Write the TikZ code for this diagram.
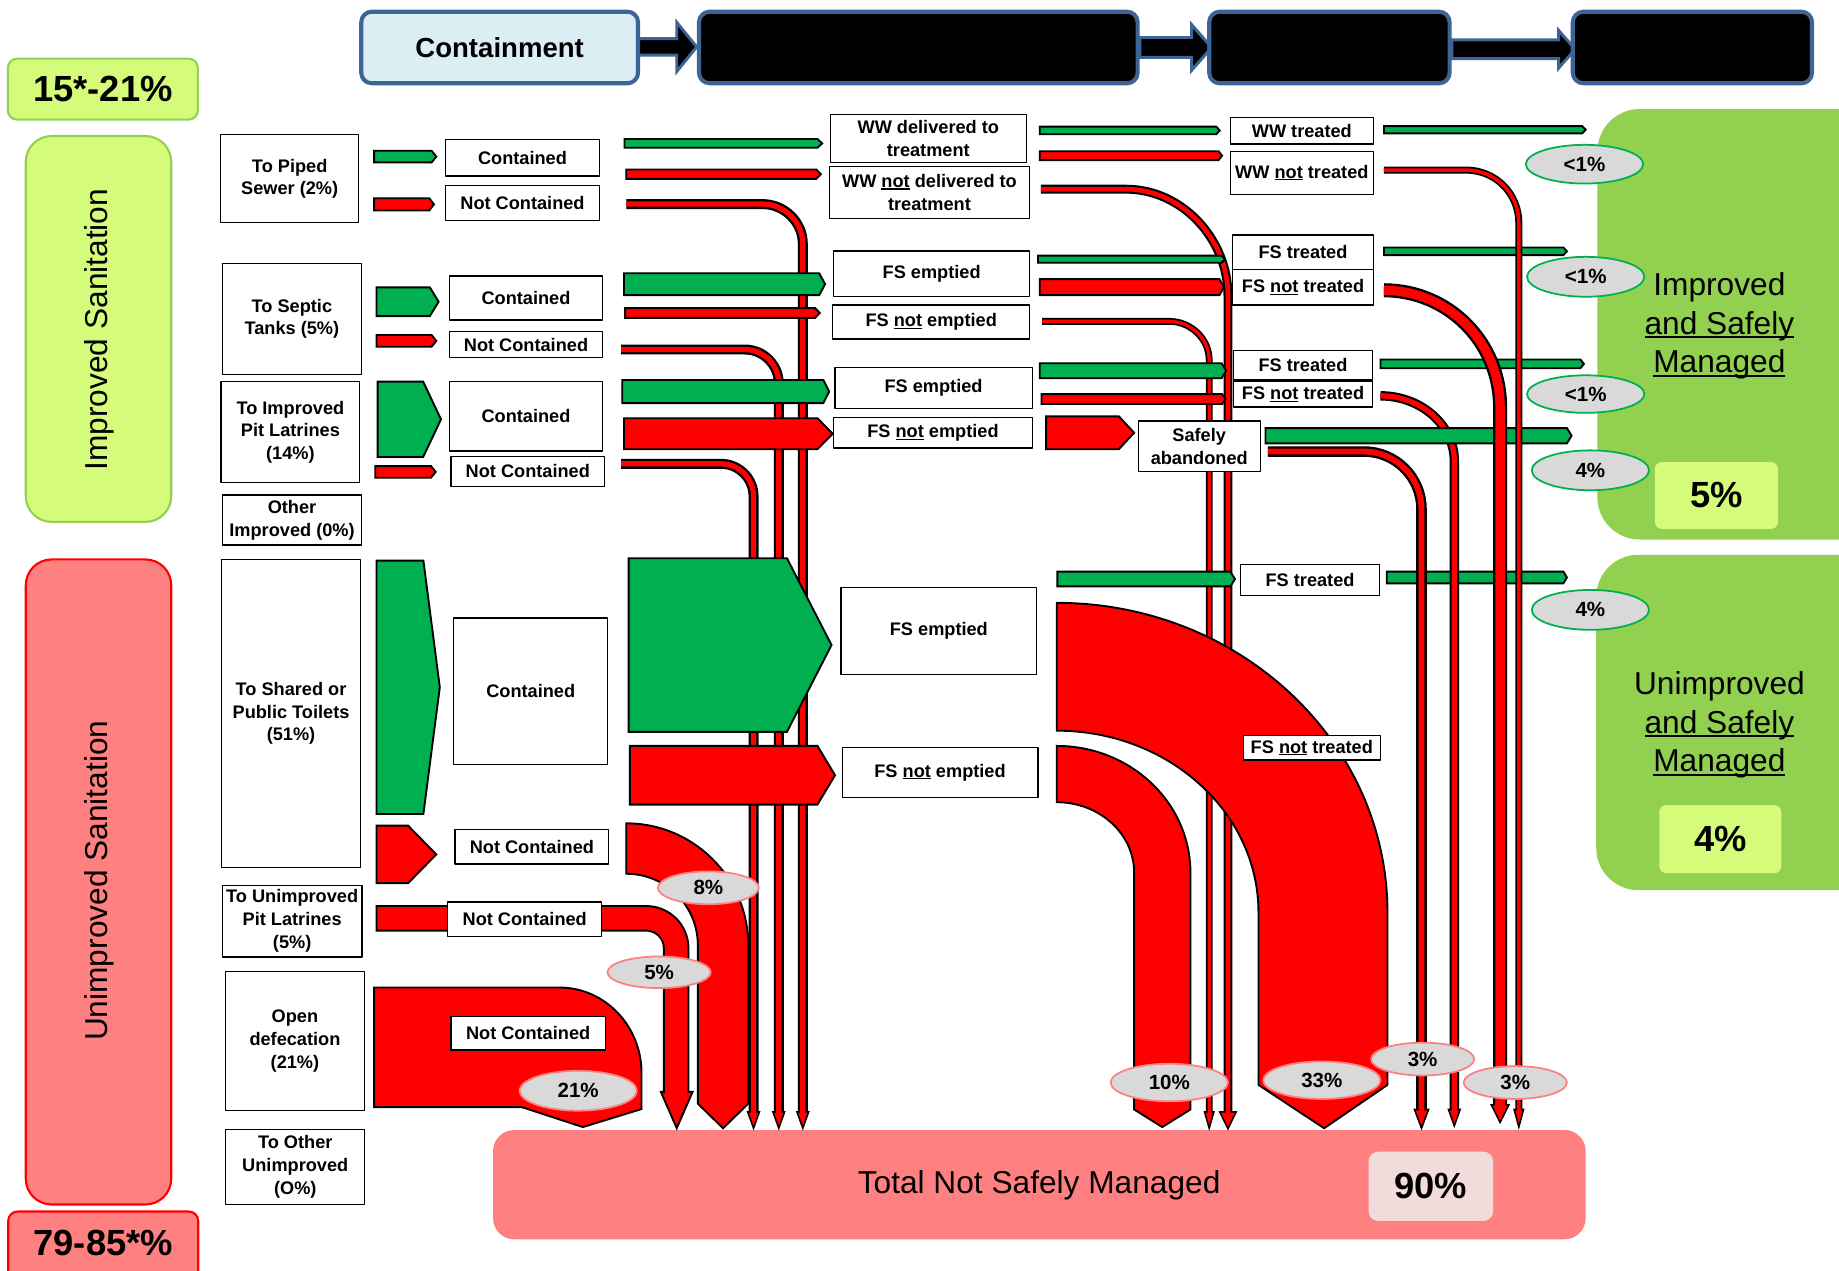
\documentclass[tikz,border=0pt]{standalone}
\usepackage{fontspec}
\setmainfont{Liberation Sans}
\usetikzlibrary{shapes.geometric}

\definecolor{flowgreen}{RGB}{0,176,80}
\definecolor{flowred}{RGB}{255,0,0}
\definecolor{salmon}{RGB}{255,128,128}
\definecolor{limefill}{RGB}{213,251,122}
\definecolor{limeedge}{RGB}{146,208,80}
\definecolor{safegreen}{RGB}{146,208,80}
\definecolor{pctgrey}{RGB}{217,217,217}
\definecolor{pctpink}{RGB}{255,128,128}
\definecolor{hdrblue}{RGB}{60,100,150}
\definecolor{hdrfill}{RGB}{219,238,244}
\definecolor{totalinner}{RGB}{242,220,219}

\newcommand\lblfont{\fontsize{15.5}{19.5}\selectfont\bfseries}
\newcommand\pctfont{\fontsize{17.5}{20}\selectfont\bfseries}
\newcommand\bigfont{\fontsize{27}{33}\selectfont}
\newcommand\numfont{\fontsize{31}{36}\selectfont\bfseries}
\newcommand\hdrfont{\fontsize{23.5}{28}\selectfont\bfseries}

% underline that sits just under the baseline
\newsavebox\ulbox
\newcommand\ul[1]{\sbox\ulbox{#1}\rlap{\rule[-0.13em]{\wd\ulbox}{0.07em}}\usebox\ulbox}

% text box given by its corners: [style]{name}{x1}{y1}{x2}{y2}{text}
\newcommand\tbox[7][]{\node[lbl,#1,minimum width={(#5-#3)*1pt},minimum height={(#6-#4)*1pt}] (#2) at ({(#3+#5)/2},{(#4+#6)/2}) {#7};}
% horizontal flow arrow with a pointed end: {style}{x1}{y1}{x2}{y2}{tip length}
\newcommand\harrow[6]{\path[#1] (#2,#3) -- ({#4-#6},#3) -- (#4,{(#3+#5)/2}) -- ({#4-#6},#5) -- (#2,#5) -- cycle;}
% outlined band along a path: {colour}{core width}{outer width}{path}
\newcommand\band[4]{\draw[black,line width=#3] #4; \draw[#1,line width=#2] #4;}
% downward head for a band: {colour}{x}{head start}{tip}{half width}{core width}
\newcommand\vend[6]{\filldraw[#1,draw=black,line width=1.3,line join=miter] ({#2-#5},#3) -- (#2,#4) -- ({#2+#5},#3) -- cycle; \draw[#1,line width=#6] (#2,{#3-1}) -- (#2,{#3+2});}

\begin{document}
\begin{tikzpicture}[x=1pt,y=-1pt,line cap=butt,line join=round,
  lbl/.style={draw=black,line width=1,fill=white,inner sep=0pt,align=center,font=\lblfont},
  gfl/.style={fill=flowgreen,draw=black,line width=1.6,line join=miter},
  rfl/.style={fill=flowred,draw=black,line width=1.6,line join=miter},
  pct/.style={ellipse,fill=pctgrey,line width=1.5,inner sep=0pt,font=\pctfont},
  pctg/.style={pct,draw=flowgreen},
  pctr/.style={pct,draw=pctpink},
  hdr/.style={draw=hdrblue,line width=3.5,rounded corners=9pt,fill=black,font=\hdrfont},
  harr/.style={fill=black,draw=hdrblue,line width=2.5,line join=miter},
  panel/.style={line width=1.8,inner sep=0pt}]

\useasboundingbox (0,0) rectangle (1568,1083);
\clip (0,0) rectangle (1568,1083);
\fill[white] (0,0) rectangle (1568,1083);

% ---- left side panels
\node[panel,draw=limeedge,fill=limefill,rounded corners=8,minimum width=162,minimum height=52,font=\numfont] (covimp) at (87.7,76) {15*-21\%};
\path[panel,draw=limeedge,fill=limefill,rounded corners=22] (22,116) rectangle (146,445);
\node[rotate=90,font=\bigfont] (impsan) at (85,281) {Improved Sanitation};
\path[panel,draw=flowred,fill=salmon,rounded corners=22] (22,477) rectangle (146,1027);
\node[rotate=90,font=\bigfont] (unimpsan) at (85,751) {Unimproved Sanitation};
\path[panel,draw=flowred,fill=salmon,rounded corners=8] (7,1033) rectangle (169,1110);
\node[font=\numfont] (covunimp) at (88,1060) {79-85*\%};

% ---- right side panels
\path[fill=safegreen,rounded corners=36] (1362,93) rectangle (1640,460);
\node[font=\bigfont,align=center] (impsafe) at (1466,278) {Improved\\\ul{and Safely}\\\ul{Managed}};
\node[fill=limefill,rounded corners=6,minimum width=105,minimum height=57,font=\numfont] (impperc) at (1463.5,422.5) {5\%};
\path[fill=safegreen,rounded corners=36] (1361,473) rectangle (1640,759);
\node[font=\bigfont,align=center] (unimpsafe) at (1466,618) {Unimproved\\\ul{and Safely}\\\ul{Managed}};
\node[fill=limefill,rounded corners=6,minimum width=104,minimum height=58,font=\numfont] (unimpperc) at (1466.8,715.5) {4\%};

% ---- total
\path[fill=salmon,rounded corners=18] (420.4,963.5) rectangle (1352,1056.7);
\node[font=\bigfont] (total) at (886,1011) {Total Not Safely Managed};
\node[fill=totalinner,rounded corners=8,minimum width=106,minimum height=59,font=\numfont] (totalperc) at (1220,1011.5) {90\%};

% ---- header chain
\path[harr] (540,33) -- (577,33) -- (577,19) -- (594,40) -- (577,61) -- (577,47) -- (540,47) -- cycle;
\path[harr] (972,32) -- (1016,32) -- (1016,21) -- (1033,40.5) -- (1016,60) -- (1016,49) -- (972,49) -- cycle;
\path[harr] (1238,34) -- (1329,34) -- (1329,26) -- (1343,42) -- (1329,58) -- (1329,50) -- (1238,50) -- cycle;
\tbox[hdr,fill=hdrfill]{stagea}{308}{10}{544}{71}{Containment}
\tbox[hdr]{stageb}{596}{10}{970}{71}{}
\tbox[hdr]{stagec}{1031}{10}{1236}{71}{}
\tbox[hdr]{staged}{1341}{10}{1545}{71}{}

% ---- not contained lines falling to the total
\band{flowred}{4.5}{8.5}{(534,174) -- (650,174) .. controls (668.8,174) and (684.5,189.2) .. (684.5,208) -- (684.5,948)}
\vend{flowred}{684.5}{948}{962}{5}{4.5}
\band{flowred}{4.5}{8.5}{(529.6,298) -- (635,298) .. controls (651,298) and (664,311) .. (664,327) -- (664,948)}
\vend{flowred}{664}{948}{962}{5}{4.5}
\band{flowred}{4.5}{8.5}{(529.6,395.5) -- (615,395.5) .. controls (630,395.5) and (642.5,408) .. (642.5,423) -- (642.5,948)}
\vend{flowred}{642.5}{948}{962}{5}{4.5}

% ---- containment arrows
\harrow{gfl}{319}{128.5}{372}{138.5}{4}
\harrow{rfl}{319}{169}{370}{179.5}{4}
\harrow{gfl}{321}{245}{374}{269.5}{7.5}
\harrow{rfl}{321}{285.6}{372}{295.6}{4}
\harrow{gfl}{322}{325.4}{376}{389.7}{15.2}
\harrow{rfl}{320}{397.4}{371.5}{407.3}{4}
\path[gfl] (321,478) -- (361,478) -- (375,586) -- (361,694) -- (321,694) -- cycle;
\path[rfl] (321,704) -- (348,704) -- (372,728.5) -- (348,753) -- (321,753) -- cycle;

% ---- emptying arrows
\harrow{gfl}{532.5}{118.5}{701}{126}{4}
\harrow{rfl}{534}{144.5}{700}{152.5}{4}
\harrow{gfl}{532}{233}{703.5}{251.6}{5}
\harrow{rfl}{533}{262.7}{699}{271}{4}
\harrow{gfl}{530.5}{324}{707}{343.7}{5}
\harrow{rfl}{532}{356.6}{710}{383}{13}
\path[gfl] (536,476) -- (671,476) -- (709,550) -- (671,624) -- (536,624) -- cycle;
\path[rfl] (537,636) -- (697,636) -- (712,661) -- (697,686) -- (537,686) -- cycle;

% ---- unsafe flows of shared toilets, unimproved pits, open defecation
\path[rfl] (534,702) .. controls (591.4,702) and (638,748.6) .. (638,806) -- (638,941) -- (616.5,962) -- (595,941) -- (595,806) .. controls (595,772.3) and (567.7,745) .. (534,745) -- cycle;
\path[rfl] (321,772.5) -- (551,772.5) .. controls (570.9,772.5) and (587,788.6) .. (587,808.5) -- (587,931) -- (590.5,931) -- (577,962) -- (563.5,931) -- (566,931) -- (566,808.5) .. controls (566,800.2) and (559.3,793.5) .. (551,793.5) -- (321,793.5) -- cycle;
\path[rfl] (319,842) -- (477,842) .. controls (515.7,842) and (547,874.7) .. (547,915) -- (547,945.6) -- (497,961) -- (445,944) -- (319,944) -- cycle;

% ---- transport stage lines
\band{flowred}{4}{7.6}{(887.5,161.3) -- (960,161.3) .. controls (1008,161.3) and (1047,204) .. (1047,252) -- (1047,948)}
\vend{flowred}{1047}{948}{962.5}{7}{4}
\band{flowred}{2.8}{5.8}{(888.5,274) -- (997,274) .. controls (1015.2,274) and (1031,288.8) .. (1031,307) -- (1031,948)}
\vend{flowred}{1031}{948}{962}{4}{2.8}

\path[rfl] (901,514) .. controls (1056.7,514) and (1183,632.2) .. (1183,778) -- (1183,925) -- (1129,962) -- (1073,925) -- (1073,778) .. controls (1073,692.4) and (996,623) .. (901,623) -- cycle;
\path[rfl] (901,636) .. controls (964,636) and (1015,684.4) .. (1015,744) -- (1015,946) -- (991,961) -- (967,946) -- (967,744) .. controls (967,711) and (937.5,684) .. (901,684) -- cycle;

\harrow{gfl}{886.5}{108}{1040}{114.5}{3}
\harrow{rfl}{886.5}{129}{1042}{136.5}{3}
\harrow{gfl}{885}{218}{1044.5}{224}{3}
\harrow{rfl}{886.5}{238}{1043.7}{251.6}{4}
\harrow{gfl}{886.5}{309.7}{1045.5}{322.5}{4}
\harrow{rfl}{888}{336}{1045}{344.5}{3}
\harrow{rfl}{892}{355}{967}{383}{13}
\harrow{gfl}{901.5}{487.4}{1053}{500}{4}

% ---- treatment stage
\harrow{gfl}{1180}{107.5}{1352}{113.7}{3}
\harrow{gfl}{1180}{211}{1336}{217.5}{3}
\harrow{gfl}{1177}{306.5}{1350.5}{314}{3}
\harrow{gfl}{1182.4}{487.4}{1336}{497.4}{3}
\band{flowred}{4.5}{8}{(1177,337.5) .. controls (1211.7,337.5) and (1240,362.5) .. (1240,393) -- (1240,946)}
\vend{flowred}{1240}{946}{960}{5}{4.5}
\harrow{gfl}{1079}{365}{1340}{378}{4}
\band{flowred}{5}{9}{(1081,385) -- (1163,385) .. controls (1190,385) and (1212,407) .. (1212,434) -- (1212,946)}
\vend{flowred}{1212}{946}{962}{6}{5}
\band{flowred}{8}{12}{(1180,247.5) .. controls (1235,247.5) and (1279,292) .. (1279,347) -- (1279,942)}
\vend{flowred}{1279}{942}{957}{7.5}{8}
\band{flowred}{3}{6}{(1180,145) -- (1250,145) .. controls (1275,145) and (1295,165) .. (1295,190) -- (1295,946)}
\vend{flowred}{1295}{946}{961}{4}{3}

% ---- labels
\tbox{srcpipe}{188}{115}{306}{190}{To Piped\\Sewer (2\%)}
\tbox{pipecont}{380}{119}{511}{150}{Contained}
\tbox{pipenc}{380}{158}{511}{188}{Not Contained}
\tbox{wwdel}{708}{97.5}{875}{138.7}{WW delivered to\\treatment}
\tbox{wwnotdel}{707}{142}{878}{186}{WW \ul{not} delivered to\\treatment}
\tbox{wwtr}{1049}{100}{1171}{122.8}{WW treated}
\tbox{wwnottr}{1049}{129}{1171}{165.5}{WW \ul{not} treated}

\tbox{srcsep}{189.5}{224.6}{308.3}{319}{To Septic\\Tanks (5\%)}
\tbox{sepcont}{383}{235.4}{514}{272.9}{Contained}
\tbox{sepnc}{383}{282.8}{514}{304.7}{Not Contained}
\tbox{sepemp}{710.7}{214}{878}{253}{FS emptied}
\tbox{sepnotemp}{710}{260}{878}{289}{FS \ul{not} emptied}
\tbox{septr}{1051}{200.4}{1171}{229.6}{FS treated}
\tbox{sepnottr}{1051}{230}{1171}{260}{FS \ul{not} treated}

\tbox{srcpit}{188.4}{325.4}{306.8}{411.6}{To Improved\\Pit Latrines\\(14\%)}
\tbox{pitcont}{383}{325.4}{514}{384.6}{Contained}
\tbox{pitnc}{384.6}{389.4}{515.5}{414.5}{Not Contained}
\tbox{pitemp}{712}{313}{880}{348}{FS emptied}
\tbox{pitnotemp}{711}{356}{880}{382}{FS \ul{not} emptied}
\tbox{pittr}{1052}{298.5}{1170}{324}{FS treated}
\tbox{pitnottr}{1052}{325.5}{1170}{347}{FS \ul{not} treated}
\tbox{pitaband}{970.5}{359}{1074.5}{402}{Safely\\abandoned}
\tbox{srcother}{190}{422}{308}{464.7}{Other\\Improved (0\%)}

\tbox{srcshared}{188.8}{476.7}{307.5}{739.8}{To Shared or\\Public Toilets\\(51\%)}
\tbox{shcont}{387}{527}{518}{652}{Contained}
\tbox{shnc}{388}{707}{519}{736.7}{Not Contained}
\tbox{shemp}{717}{501}{884}{575}{FS emptied}
\tbox{shnotemp}{718}{637}{885}{680}{FS \ul{not} emptied}
\tbox{shtr}{1058}{481}{1176}{508}{FS treated}
\tbox{shnottr}{1060}{627}{1177}{648}{FS \ul{not} treated}

\tbox{srcunpit}{189.5}{754.7}{308.7}{816}{To Unimproved\\Pit Latrines\\(5\%)}
\tbox{unpitnc}{381.8}{769}{513}{798.6}{Not Contained}
\tbox{srcod}{192}{828.5}{311}{946.5}{Open\\defecation\\(21\%)}
\tbox{odnc}{384.6}{866.5}{516}{895.3}{Not Contained}
\tbox{srcother2}{192.5}{962.7}{311}{1026.7}{To Other\\Unimproved\\(O\%)}

% ---- percentages
\node[pctr,minimum width=86,minimum height=28] (p8) at (604,757) {8\%};
\node[pctr,minimum width=88,minimum height=27] (p5) at (562,829) {5\%};
\node[pctr,minimum width=100,minimum height=34] (p21) at (493,930) {21\%};
\node[pctr,minimum width=100,minimum height=32] (p10) at (997,923) {10\%};
\node[pctr,minimum width=100,minimum height=32] (p33) at (1127,921) {33\%};
\node[pctr,minimum width=88,minimum height=28] (p3a) at (1213,903) {3\%};
\node[pctr,minimum width=88,minimum height=28] (p3b) at (1292,923) {3\%};
\node[pctg,minimum width=100,minimum height=33] (g1) at (1351,140) {<1\%};
\node[pctg,minimum width=100,minimum height=34] (g2) at (1352,236) {<1\%};
\node[pctg,minimum width=100,minimum height=32] (g3) at (1352,336) {<1\%};
\node[pctg,minimum width=100,minimum height=34] (g4) at (1356,401) {4\%};
\node[pctg,minimum width=100,minimum height=34] (g5) at (1356,520) {4\%};
\end{tikzpicture}
\end{document}
